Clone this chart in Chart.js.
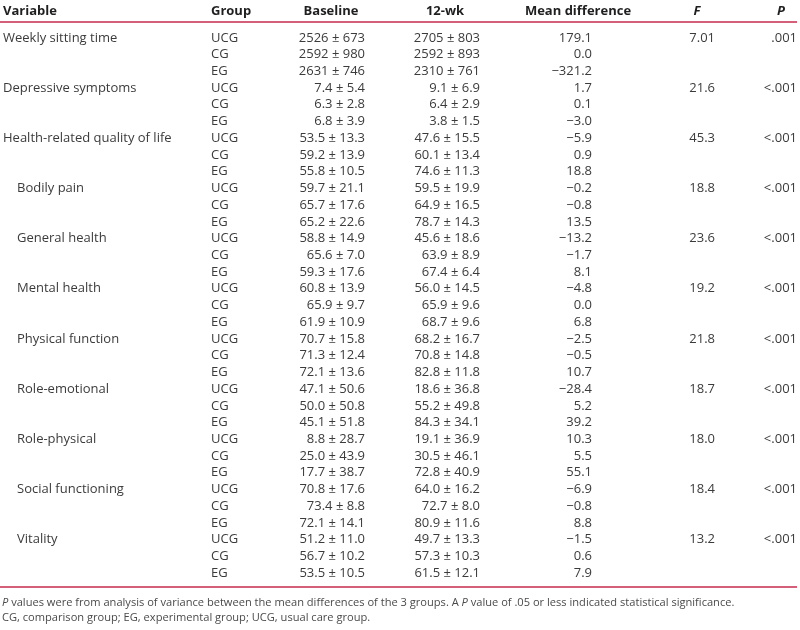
<!DOCTYPE html>
<html>
<head>
<meta charset="utf-8">
<script src="https://cdn.jsdelivr.net/npm/chart.js@4.4.1/dist/chart.umd.min.js"></script>
<style>
  html, body { margin: 0; padding: 0; background: #fff; }
</style>
</head>
<body>
<canvas id="tableChart" width="800" height="630"></canvas>
<script>
const variables = ["Weekly sitting time", "Depressive symptoms", "Health-related quality of life",
  "Bodily pain", "General health", "Mental health", "Physical function", "Role-emotional",
  "Role-physical", "Social functioning", "Vitality"];
const isSubscale = [false, false, false, true, true, true, true, true, true, true, true];
const groups = ["UCG", "CG", "EG"];
const decimals = [0, 1, 1, 1, 1, 1, 1, 1, 1, 1, 1];

const baselineMean = [[2526, 2592, 2631], [7.4, 6.3, 6.8], [53.5, 59.2, 55.8], [59.7, 65.7, 65.2],
  [58.8, 65.6, 59.3], [60.8, 65.9, 61.9], [70.7, 71.3, 72.1], [47.1, 50.0, 45.1],
  [8.8, 25.0, 17.7], [70.8, 73.4, 72.1], [51.2, 56.7, 53.5]];
const baselineSD = [[673, 980, 746], [5.4, 2.8, 3.9], [13.3, 13.9, 10.5], [21.1, 17.6, 22.6],
  [14.9, 7.0, 17.6], [13.9, 9.7, 10.9], [15.8, 12.4, 13.6], [50.6, 50.8, 51.8],
  [28.7, 43.9, 38.7], [17.6, 8.8, 14.1], [11.0, 10.2, 10.5]];
const week12Mean = [[2705, 2592, 2310], [9.1, 6.4, 3.8], [47.6, 60.1, 74.6], [59.5, 64.9, 78.7],
  [45.6, 63.9, 67.4], [56.0, 65.9, 68.7], [68.2, 70.8, 82.8], [18.6, 55.2, 84.3],
  [19.1, 30.5, 72.8], [64.0, 72.7, 80.9], [49.7, 57.3, 61.5]];
const week12SD = [[803, 893, 761], [6.9, 2.9, 1.5], [15.5, 13.4, 11.3], [19.9, 16.5, 14.3],
  [18.6, 8.9, 6.4], [14.5, 9.6, 9.6], [16.7, 14.8, 11.8], [36.8, 49.8, 34.1],
  [36.9, 46.1, 40.9], [16.2, 8.0, 11.6], [13.3, 10.3, 12.1]];
const meanDiff = [[179.1, 0.0, -321.2], [1.7, 0.1, -3.0], [-5.9, 0.9, 18.8], [-0.2, -0.8, 13.5],
  [-13.2, -1.7, 8.1], [-4.8, 0.0, 6.8], [-2.5, -0.5, 10.7], [-28.4, 5.2, 39.2],
  [10.3, 5.5, 55.1], [-6.9, -0.8, 8.8], [-1.5, 0.6, 7.9]];
const fStat = ["7.01", "21.6", "45.3", "18.8", "23.6", "19.2", "21.8", "18.7", "18.0", "18.4", "13.2"];
const pValue = [".001", "<.001", "<.001", "<.001", "<.001", "<.001", "<.001", "<.001", "<.001", "<.001", "<.001"];

const headers = ["Variable", "Group", "Baseline", "12-wk", "Mean difference", "F", "P"];
const notes = [
  [["P", true], [" values were from analysis of variance between the mean differences of the 3 groups. A ", false],
   ["P", true], [" value of .05 or less indicated statistical significance.", false]],
  [["CG, comparison group; EG, experimental group; UCG, usual care group.", false]]
];

// ---- layout (scale units: x = px across, y = table rows) ----
const FONT = '"Open Sans", sans-serif';
const textColor = "#3b3b3b";
const ruleColor = "#c62a4b";
const headerRow = -1.584;
const rules = [-1.166, 32.606];
const noteRows = [33.74, 34.64];
const cols = [
  { x: 3, indent: 14, align: "left", hx: 3, halign: "left" },
  { x: 211, align: "left", hx: 211, halign: "left" },
  { x: 365, align: "right", hx: 331, halign: "center" },
  { x: 480, align: "right", hx: 445, halign: "center" },
  { x: 592, align: "right", hx: 578, halign: "center" },
  { x: 715, align: "right", hx: 697, halign: "center" },
  { x: 797, align: "right", hx: 781, halign: "center" }
];

function fmt(v, d) {
  return (v < 0 ? "\u2212" : "") + Math.abs(v).toFixed(d);
}
function meanSd(m, s, d) {
  return fmt(m, d) + " \u00b1 " + fmt(s, d);
}

// one dataset per column, one point per cell
function column(ci, textFn, onlyFirst) {
  const c = cols[ci];
  const data = [], texts = [];
  variables.forEach((v, vi) => {
    groups.forEach((g, gi) => {
      if (onlyFirst && gi > 0) return;
      let x = c.x;
      if (ci === 0 && isSubscale[vi]) x += c.indent;
      data.push({ x: x, y: vi * 3 + gi });
      texts.push(textFn(vi, gi));
    });
  });
  return { label: headers[ci], data: data, texts: texts, align: c.align,
    font: "13px " + FONT, color: textColor, pointRadius: 0 };
}

const datasets = [
  column(0, (vi) => variables[vi], true),
  column(1, (vi, gi) => groups[gi], false),
  column(2, (vi, gi) => meanSd(baselineMean[vi][gi], baselineSD[vi][gi], decimals[vi]), false),
  column(3, (vi, gi) => meanSd(week12Mean[vi][gi], week12SD[vi][gi], decimals[vi]), false),
  column(4, (vi, gi) => fmt(meanDiff[vi][gi], 1), false),
  column(5, (vi) => fStat[vi], true),
  column(6, (vi) => pValue[vi], true)
];
// header cells
headers.forEach((h, i) => {
  const italic = (h === "F" || h === "P") ? "italic " : "";
  datasets.push({ label: "header " + h, data: [{ x: cols[i].hx, y: headerRow }], texts: [h],
    align: cols[i].halign, font: italic + "bold 13px " + FONT, color: "#1f1f1f", pointRadius: 0 });
});

const tablePlugin = {
  id: "tableText",
  afterDatasetsDraw(chart) {
    const ctx = chart.ctx, xs = chart.scales.x, ys = chart.scales.y;
    ctx.save();
    ctx.strokeStyle = ruleColor;
    ctx.lineWidth = 1.6;
    rules.forEach(r => {
      const y = ys.getPixelForValue(r);
      ctx.beginPath();
      ctx.moveTo(xs.getPixelForValue(0), y);
      ctx.lineTo(xs.getPixelForValue(797), y);
      ctx.stroke();
    });
    ctx.textBaseline = "alphabetic";
    chart.data.datasets.forEach((ds, i) => {
      const meta = chart.getDatasetMeta(i);
      ctx.font = ds.font;
      ctx.fillStyle = ds.color;
      ctx.textAlign = ds.align;
      meta.data.forEach((pt, j) => {
        if (ds.texts[j]) ctx.fillText(ds.texts[j], pt.x, pt.y);
      });
    });
    // footnotes, with italic P
    ctx.textAlign = "left";
    ctx.fillStyle = "#4a4a4a";
    notes.forEach((line, li) => {
      let x = xs.getPixelForValue(2);
      const y = ys.getPixelForValue(noteRows[li]);
      line.forEach(([t, it]) => {
        ctx.font = (it ? "italic " : "") + "11.1px " + FONT;
        ctx.fillText(t, x, y);
        x += ctx.measureText(t).width;
      });
    });
    ctx.restore();
  }
};

new Chart(document.getElementById("tableChart"), {
  type: "scatter",
  data: { datasets: datasets },
  options: {
    responsive: false,
    animation: false,
    events: [],
    layout: { padding: 0 },
    plugins: { legend: { display: false }, tooltip: { enabled: false } },
    scales: {
      x: { type: "linear", display: false, min: 0, max: 800 },
      y: { type: "linear", display: false, reverse: true, min: -2.481, max: 35.176 }
    }
  },
  plugins: [tablePlugin]
});
</script>
</body>
</html>
